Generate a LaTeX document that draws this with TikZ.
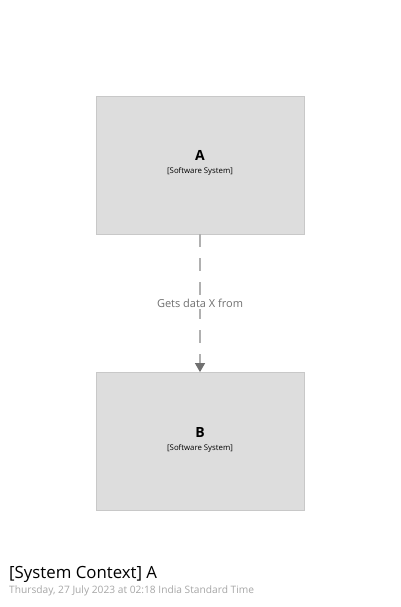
\documentclass[tikz,border=0pt]{standalone}
\usepackage{fontspec}
\setmainfont{Open Sans}
\usetikzlibrary{arrows.meta}
\definecolor{boxfill}{HTML}{DDDDDD}
\definecolor{boxline}{HTML}{C8C8C8}
\definecolor{relgray}{HTML}{707070}
\definecolor{linegray}{HTML}{B0B0B0}

\begin{document}
\begin{tikzpicture} [x=1pt, y=-1pt,
        system/.style={draw=boxline, fill=boxfill, line width=0.8pt,
                       minimum width=208pt, minimum height=138pt, inner sep=0pt},
        rel/.style={draw=linegray, line width=1.2pt, dash pattern=on 13pt off 11pt,
                    -{Triangle[width=10pt,length=9pt,fill=relgray,color=relgray]}}]
            \useasboundingbox (0,0) rectangle (400,607);

            \node[system] (a) at (200, 165)    {};
            \node[system] (b) at (200, 441.5)  {};

            \node[font=\bfseries\fontsize{14}{16}\selectfont] (aname) at (200, 155) {A};
            \node[font=\fontsize{7.8}{9}\selectfont] (atype) at (200, 171) {[Software System]};
            \node[font=\bfseries\fontsize{14}{16}\selectfont] (bname) at (200, 432) {B};
            \node[font=\fontsize{7.8}{9}\selectfont] (btype) at (200, 448) {[Software System]};

            \draw[rel] (a.south) -- (b.north);
            \node[fill=white, text=relgray, font=\fontsize{11}{13}\selectfont,
                  inner sep=2pt] (desc) at (200, 303) {Gets data X from};

            \node[anchor=west, inner sep=0pt, font=\fontsize{16.8}{20}\selectfont] (title)
                at (9, 574.5) {[System Context] A};
            \node[anchor=west, inner sep=0pt, text=black!35, font=\fontsize{10.2}{12}\selectfont] (stamp)
                at (9, 591) {Thursday, 27 July 2023 at 02:18 India Standard Time};
        \end{tikzpicture}
\end{document}
